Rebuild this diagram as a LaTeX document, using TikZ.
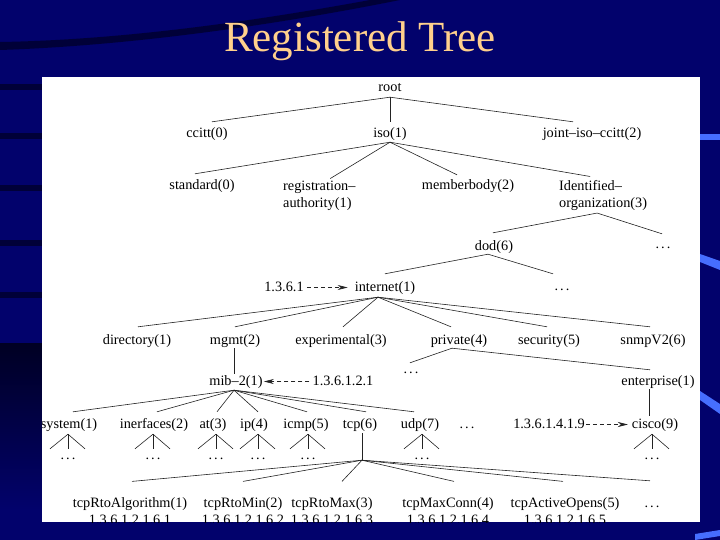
\documentclass[tikz,border=0pt]{standalone}
\usepackage{fontspec}
\setmainfont{Liberation Serif}
\usetikzlibrary{calc,arrows.meta}
\definecolor{bgnavy}{RGB}{2,2,108}
\definecolor{bgdark}{RGB}{0,0,35}
\definecolor{streak}{RGB}{70,110,255}
\definecolor{titlecol}{RGB}{255,208,140}
\definecolor{linecol}{RGB}{35,35,35}
\newcommand\treeedge[6]{\draw[treeline] ([xshift=#3,yshift=#4]#1.south) -- ([xshift=#5,yshift=#6]#2.north);}
\newcommand\treefan[2]{%
  \coordinate (#1apex) at ($(#2.north |- #1.south)+(0,3)$);
  \draw[treeline] ($(#2.north)+(-18,0)$) -- (#1apex) -- ($(#2.north)+(17,0)$);
  \draw[treeline] (#1apex) -- (#2.north);}
\begin{document}
\begin{tikzpicture}[x=1pt,y=-1pt,
  tn/.style={font=\fontsize{14.3}{17}\selectfont, inner sep=0pt, anchor=base, text height=10pt, text depth=3pt},
  tntwo/.style={font=\fontsize{14.3}{17}\selectfont, inner sep=0pt, align=left, anchor=north west},
  tnleaf/.style={font=\fontsize{14.3}{16.5}\selectfont, inner sep=0pt, align=center, anchor=north},
  treeline/.style={draw=linecol, line width=0.6pt},
  oidarrow/.style={draw=linecol, line width=0.6pt, dash pattern=on 4pt off 3pt, -{Stealth[length=10pt,width=5pt]}},
]
\useasboundingbox (0,0) rectangle (720,540);
% background
\fill[bgnavy] (0,0) rectangle (720,540);
\fill[bgdark, opacity=0.7] (0,50) .. controls (120,46) and (260,28) .. (400,0) -- (370,0) .. controls (250,22) and (120,40) .. (0,42) -- cycle;
\foreach \yy in {87,136,188,243,295} \fill[bgdark, opacity=0.7] (0,\yy-3) rectangle (42,\yy+3);
\shade[top color=bgdark, bottom color=bgnavy] (0,343) rectangle (42,510);
\fill[streak] (700,134) rectangle (720,140);
\fill[streak] (700,254) -- (720,261) -- (720,270) -- (700,262) -- cycle;
\fill[streak] (700,391) -- (720,404) -- (720,414) -- (700,400) -- cycle;
\fill[streak] (695,534) -- (720,530) -- (720,536) -- (695,540) -- cycle;
% title
\node[font=\fontsize{43}{50}\selectfont, text=titlecol, anchor=base, inner sep=0pt] (title) at (360,52) {Registered Tree};
% panel
\fill[white] (42,77) rectangle (700,522);
\begin{scope}
\clip (42,77) rectangle (700,522);
% level 0-1
\node[tn] (root) at (390,92) {root};
\node[tn] (ccitt) at (207,138) {ccitt(0)};
\node[tn] (iso) at (390,138) {iso(1)};
\node[tn] (joint) at (592,138) {joint–iso–ccitt(2)};
% level 2
\node[tn] (standard) at (202,190) {standard(0)};
\node[tntwo] (reg) at (283,180.5) {registration–\\authority(1)};
\node[tn] (member) at (468,190) {memberbody(2)};
\node[tntwo] (ident) at (559,180.5) {Identified–\\organization(3)};
% level 3
\node[tn] (dod) at (494,250) {dod(6)};
\node[tn] (dotsA) at (663,248) {.\kern2pt.\kern2pt.};
% level 4
\node[tn] (n1361) at (284,291) {1.3.6.1};
\node[tn] (internet) at (385,291) {internet(1)};
\node[tn] (dotsB) at (562,290) {.\kern2pt.\kern2pt.};
% level 5
\node[tn] (directory) at (137,344) {directory(1)};
\node[tn] (mgmt) at (235,344) {mgmt(2)};
\node[tn] (experimental) at (341,344) {experimental(3)};
\node[tn] (private) at (459,344) {private(4)};
\node[tn] (security) at (549,344) {security(5)};
\node[tn] (snmp) at (653,344) {snmpV2(6)};
% level 6
\node[tn] (mib) at (236,385) {mib–2(1)};
\node[tn] (n136121) at (343,385) {1.3.6.1.2.1};
\node[tn] (dotsC) at (411,373) {.\kern2pt.\kern2pt.};
\node[tn] (enterprise) at (658,385) {enterprise(1)};
% level 7
\node[tn] (system) at (69,428) {system(1)};
\node[tn] (interfaces) at (154,428) {inerfaces(2)};
\node[tn] (at) at (213,428) {at(3)};
\node[tn] (ip) at (254,428) {ip(4)};
\node[tn] (icmp) at (306,428) {icmp(5)};
\node[tn] (tcp) at (360,428) {tcp(6)};
\node[tn] (udp) at (420,428) {udp(7)};
\node[tn] (dotsD) at (467,428) {.\kern2pt.\kern2pt.};
\node[tn] (n1361419) at (549,428) {1.3.6.1.4.1.9};
\node[tn] (cisco) at (655,428) {cisco(9)};
% fan dots
\node[tn] (systemd) at (68,459) {.\kern2pt.\kern2pt.};
\node[tn] (interfacesd) at (153,459) {.\kern2pt.\kern2pt.};
\node[tn] (atd) at (216,459) {.\kern2pt.\kern2pt.};
\node[tn] (ipd) at (258,459) {.\kern2pt.\kern2pt.};
\node[tn] (icmpd) at (308,459) {.\kern2pt.\kern2pt.};
\node[tn] (udpd) at (422,459) {.\kern2pt.\kern2pt.};
\node[tn] (ciscod) at (652,459) {.\kern2pt.\kern2pt.};
% tcp children
\node[tnleaf] (tc1) at (130,497.4) {tcpRtoAlgorithm(1)\\1.3.6.1.2.1.6.1};
\node[tnleaf] (tc2) at (243,497.4) {tcpRtoMin(2)\\1.3.6.1.2.1.6.2};
\node[tnleaf] (tc3) at (332,497.4) {tcpRtoMax(3)\\1.3.6.1.2.1.6.3};
\node[tnleaf] (tc4) at (448,497.4) {tcpMaxConn(4)\\1.3.6.1.2.1.6.4};
\node[tnleaf] (tc5) at (565,497.4) {tcpActiveOpens(5)\\1.3.6.1.2.1.6.5};
\node[tn] (dotsE) at (652,507) {.\kern2pt.\kern2pt.};
% edges
\treeedge{root}{ccitt}{0pt}{-2pt}{5pt}{6pt}
\treeedge{root}{iso}{0pt}{-2pt}{0pt}{6pt}
\treeedge{root}{joint}{0pt}{-2pt}{-19pt}{6pt}
\treeedge{iso}{standard}{0pt}{-1pt}{-7pt}{6pt}
\treeedge{iso}{reg}{0pt}{-1pt}{11pt}{2pt}
\treeedge{iso}{member}{0pt}{-1pt}{-11pt}{5pt}
\treeedge{iso}{ident}{0pt}{-1pt}{-13pt}{4pt}
\treeedge{ident}{dod}{-6pt}{-2pt}{-1pt}{7pt}
\treeedge{ident}{dotsA}{-6pt}{-2pt}{-1pt}{4pt}
\treeedge{dod}{internet}{-6pt}{-1pt}{0pt}{7pt}
\treeedge{dod}{dotsB}{-6pt}{-1pt}{-9pt}{6pt}
\foreach \c/\dx in {directory/1pt, mgmt/0pt, experimental/2pt, private/-8pt, security/-2pt, snmp/-3pt}
  {\treeedge{internet}{\c}{-7pt}{-3pt}{\dx}{7pt}}
\treeedge{mgmt}{mib}{-1pt}{-1pt}{-2pt}{1pt}
\treeedge{private}{dotsC}{-7pt}{-1pt}{-1pt}{0pt}
\treeedge{private}{enterprise}{-7pt}{-1pt}{-8pt}{5pt}
\foreach \c/\dx in {system/4pt, interfaces/3pt, at/4pt, ip/4pt, icmp/1pt, tcp/6pt, udp/-6pt}
  {\treeedge{mib}{\c}{-2pt}{-2pt}{\dx}{6pt}}
\treeedge{enterprise}{cisco}{-9pt}{-1pt}{-6pt}{2pt}
\treefan{system}{systemd}
\treefan{interfaces}{interfacesd}
\treefan{at}{atd}
\treefan{ip}{ipd}
\treefan{icmp}{icmpd}
\treefan{udp}{udpd}
\treefan{cisco}{ciscod}
\coordinate (tcphub) at ($(tcp.south)+(2,29)$);
\draw[treeline] ([xshift=2pt,yshift=-2pt]tcp.south) -- (tcphub);
\foreach \c/\dx in {tc1/2pt, tc2/0pt, tc3/10pt, tc4/6pt, tc5/-2pt, dotsE/-2pt}
  {\draw[treeline] (tcphub) -- ([xshift=\dx,yshift=16pt]\c.north);}
% OID arrows
\draw[oidarrow] ([xshift=3pt]n1361.east) -- ([xshift=-7pt]internet.west);
\draw[oidarrow] ([xshift=-3pt]n136121.west) -- ([xshift=1pt]mib.east);
\draw[oidarrow] ([xshift=1pt]n1361419.east) -- ([xshift=-4pt]cisco.west);
\end{scope}
\end{tikzpicture}
\end{document}
